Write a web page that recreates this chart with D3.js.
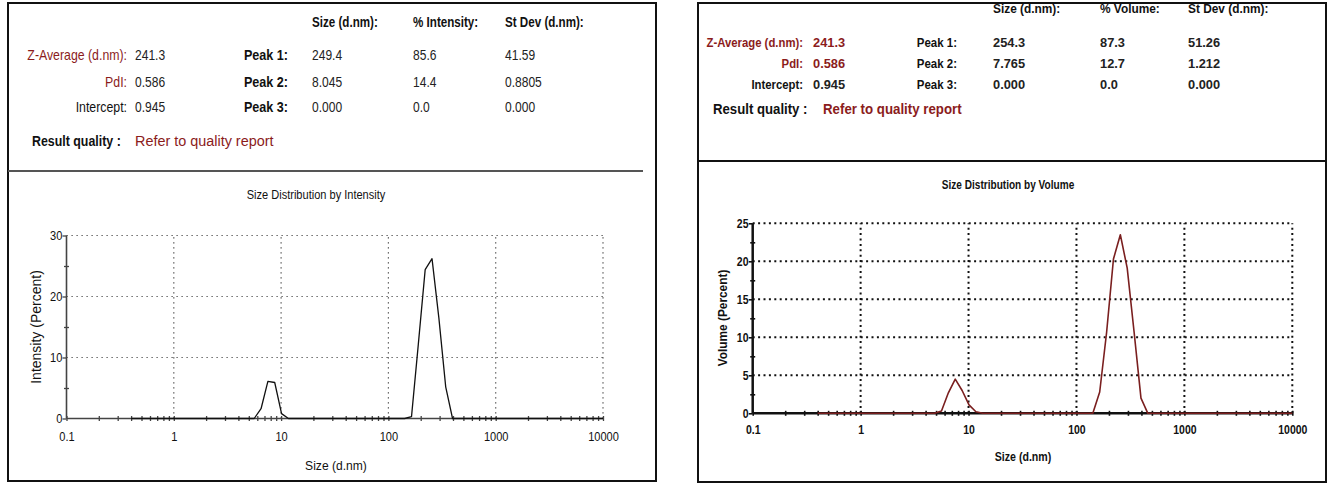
<!DOCTYPE html>
<html lang="en">
<head>
<meta charset="utf-8">
<script src="https://d3js.org/d3.v7.min.js"></script>
<style>
  body { margin: 0; background: #fff; }
  svg { display: block; }
  text { font-family: "Liberation Sans", Arial, sans-serif; }
</style>
</head>
<body>
<svg id="chart" width="1334" height="484"></svg>
<script>
// instrument size classes (d.nm), 70 log spaced bins
const sizeBins = [0.4, 0.4632, 0.5365, 0.6213, 0.7195, 0.8332, 0.9649, 1.117, 1.294, 1.499,
  1.736, 2.01, 2.328, 2.696, 3.122, 3.615, 4.187, 4.849, 5.615, 6.503,
  7.531, 8.721, 10.1, 11.7, 13.54, 15.69, 18.17, 21.04, 24.36, 28.21,
  32.67, 37.84, 43.82, 50.75, 58.77, 68.06, 78.82, 91.28, 105.7, 122.4,
  141.8, 164.2, 190.1, 220.2, 255.0, 295.3, 342.0, 396.1, 458.7, 531.2,
  615.1, 712.4, 825.0, 955.4, 1106, 1281, 1484, 1718, 1990, 2305,
  2669, 3091, 3580, 4145, 4801, 5560, 6439, 7456, 8635, 10000];

const intensityPct = [0, 0, 0, 0, 0, 0, 0, 0, 0, 0,
  0, 0, 0, 0, 0, 0, 0, 0, 0, 1.6,
  6.1, 5.9, 0.8, 0, 0, 0, 0, 0, 0, 0,
  0, 0, 0, 0, 0, 0, 0, 0, 0, 0,
  0, 0.3, 12.2, 24.4, 26.2, 16.5, 5.2, 0, 0, 0,
  0, 0, 0, 0, 0, 0, 0, 0, 0, 0,
  0, 0, 0, 0, 0, 0, 0, 0, 0, 0];

const volumePct = [0, 0, 0, 0, 0, 0, 0, 0, 0, 0,
  0, 0, 0, 0, 0, 0, 0, 0, 0.3, 2.7,
  4.5, 3.0, 1.1, 0.2, 0, 0, 0, 0, 0, 0,
  0, 0, 0, 0, 0, 0, 0, 0, 0, 0,
  0, 2.8, 10.6, 20.3, 23.5, 19.1, 10.7, 2.0, 0, 0,
  0, 0, 0, 0, 0, 0, 0, 0, 0, 0,
  0, 0, 0, 0, 0, 0, 0, 0, 0, 0];

const xTicks = [0.1, 1, 10, 100, 1000, 10000];
const intensityTicks = [0, 10, 20, 30];
const volumeTicks = [0, 5, 10, 15, 20, 25];

const summaryLabels = ["Z-Average (d.nm):", "PdI:", "Intercept:"];
const summaryValues = ["241.3", "0.586", "0.945"];
const peakLabels = ["Peak 1:", "Peak 2:", "Peak 3:"];

const intensityHeaders = ["Size (d.nm):", "% Intensity:", "St Dev (d.nm):"];
const intensityPeakSize = ["249.4", "8.045", "0.000"];
const intensityPeakPct = ["85.6", "14.4", "0.0"];
const intensityPeakSd = ["41.59", "0.8805", "0.000"];

const volumeHeaders = ["Size (d.nm):", "% Volume:", "St Dev (d.nm):"];
const volumePeakSize = ["254.3", "7.765", "0.000"];
const volumePeakPct = ["87.3", "12.7", "0.0"];
const volumePeakSd = ["51.26", "1.212", "0.000"];

const RED = "#8b1c1c";
const svg = d3.select("#chart");

// text squeezed horizontally (the report font is a condensed one)
function label(sel, x, y, str, o) {
  return sel.append("text")
    .attr("transform", `translate(${x},${y}) scale(${o.sx || 1},1)`)
    .attr("text-anchor", o.anchor || "start")
    .attr("font-size", o.size)
    .attr("font-weight", o.weight || "normal")
    .attr("fill", o.fill || "#111")
    .text(str);
}

function drawPanel(p) {
  const g = svg.append("g");
  const w = p.bold ? "bold" : "normal";

  // frame + divider
  g.append("rect").attr("x", p.box[0]).attr("y", p.box[1])
    .attr("width", p.box[2]).attr("height", p.box[3])
    .attr("fill", "none").attr("stroke", "#111").attr("stroke-width", 2);
  g.append("line").attr("x1", p.box[0]).attr("x2", p.divEnd)
    .attr("y1", p.divY).attr("y2", p.divY)
    .attr("stroke", p.divColor).attr("stroke-width", 2);

  // ---- result table ----
  p.headers.forEach((h, i) => {
    label(g, p.colX[i], p.headY, h, {size: p.fs, weight: "bold", sx: p.sxHead});
  });
  summaryLabels.forEach((s, i) => {
    const y = p.rowY[i];
    label(g, p.labEnd, y, s, {size: p.fs, weight: w, anchor: "end", sx: p.sxLab, fill: i < 2 ? RED : "#111"});
    label(g, p.valX, y, summaryValues[i], {size: p.fs, weight: w, sx: p.sxVal,
      fill: (i < 2 && p.redVals) ? RED : "#222"});
    label(g, p.peakEnd, y, peakLabels[i], {size: p.fs, weight: "bold", anchor: "end", sx: p.sxPeak});
    [p.sizes, p.pcts, p.sds].forEach((col, j) => {
      label(g, p.colX[j], y, col[i], {size: p.fs, weight: w, sx: p.sxVal, fill: "#222"});
    });
  });
  label(g, p.rqX, p.rqY, "Result quality :", {size: p.rqFs, weight: "bold", sx: p.sxRq});
  label(g, p.refX, p.rqY, "Refer to quality report", {size: p.rqFs, weight: w, sx: p.sxRef, fill: RED});

  // ---- chart ----
  const x = d3.scaleLog().domain([0.1, 10000]).range(p.xr);
  const y = d3.scaleLinear().domain([0, p.yMax]).range(p.yr);
  const c = g.append("g");

  label(c, p.titleX, p.titleY, p.title, {size: p.titleFs, weight: w, anchor: "middle", sx: p.sxTitle});

  // dotted grid
  const grid = c.append("g").attr("stroke", p.gridColor).attr("stroke-width", p.gridW)
    .attr("stroke-dasharray", p.gridDash);
  xTicks.slice(1).forEach(v => {
    grid.append("line").attr("x1", x(v)).attr("x2", x(v)).attr("y1", y(0)).attr("y2", y(p.yMax));
  });
  p.yTicks.slice(1).forEach(v => {
    grid.append("line").attr("x1", x(0.1)).attr("x2", x(10000)).attr("y1", y(v)).attr("y2", y(v));
  });

  // minor x ticks (crossing the baseline)
  const minorX = [];
  xTicks.slice(0, -1).forEach(d => { for (let k = 2; k <= 9; k++) minorX.push(d * k); });
  const mx = c.append("g").attr("transform", `translate(0,${y(0) - p.tk})`)
    .call(d3.axisBottom(x).tickValues(minorX.concat(xTicks)).tickSize(p.tk * 2).tickFormat(""));
  mx.select(".domain").remove();
  mx.selectAll("line").attr("stroke", p.axisColor).attr("stroke-width", p.tickW);

  // minor y ticks
  const minorY = p.yTicks.slice(0, -1).map(v => v + p.yStep / 2);
  const my = c.append("g").attr("transform", `translate(${x(0.1) + p.tk},0)`)
    .call(d3.axisLeft(y).tickValues(minorY).tickSize(p.tk * 2).tickFormat(""));
  my.select(".domain").remove();
  my.selectAll("line").attr("stroke", p.axisColor).attr("stroke-width", p.tickW);

  // major axes with labels
  const ax = c.append("g").attr("transform", `translate(0,${y(0)})`)
    .call(d3.axisBottom(x).tickValues(xTicks).tickSize(0).tickPadding(p.xPad)
      .tickFormat(d => String(d)));
  ax.select(".domain").remove();
  ax.selectAll("text").attr("font-size", p.tickFs).attr("fill", "#111")
    .attr("font-family", null).attr("font-weight", w)
    .attr("transform", `scale(${p.sxTick},1)`);

  const ay = c.append("g").attr("transform", `translate(${x(0.1)},0)`)
    .call(d3.axisLeft(y).tickValues(p.yTicks).tickSize(4).tickPadding(1));
  ay.select(".domain").remove();
  ay.selectAll("line").attr("stroke", p.axisColor).attr("stroke-width", p.tickW);
  ay.selectAll("text").attr("font-size", p.tickFs).attr("fill", "#111")
    .attr("font-family", null).attr("font-weight", w)
    .attr("transform", `scale(${p.sxTick},1)`);

  // solid axis lines
  c.append("line").attr("x1", x(0.1)).attr("x2", x(0.1)).attr("y1", y(0)).attr("y2", y(p.yMax))
    .attr("stroke", p.axisColor).attr("stroke-width", p.axisW);
  c.append("line").attr("x1", x(0.1)).attr("x2", x(10000)).attr("y1", y(0)).attr("y2", y(0))
    .attr("stroke", p.axisColor).attr("stroke-width", p.axisW);

  // distribution curve
  const line = d3.line().x(d => x(d[0])).y(d => y(d[1]));
  c.append("path").datum(d3.zip(sizeBins, p.values))
    .attr("d", line).attr("fill", "none")
    .attr("stroke", p.curveColor).attr("stroke-width", p.curveW).attr("stroke-linejoin", "round");

  // axis titles
  label(c, p.xtX, p.xtY, "Size (d.nm)", {size: p.xtFs, weight: w, anchor: "middle", sx: p.sxXt});
  c.append("text").attr("transform", `translate(${p.ytX},${p.ytY}) rotate(-90) scale(${p.sxYt},1)`)
    .attr("text-anchor", "middle").attr("font-size", p.ytFs).attr("font-weight", w)
    .attr("fill", "#111").text(p.yTitle);
}

drawPanel({
  box: [8, 3, 648, 478], divY: 171, divEnd: 643, divColor: "#555",
  bold: false, redVals: false, fs: 14, rqFs: 15.5,
  sxHead: 0.83, sxLab: 0.88, sxVal: 0.86, sxPeak: 0.9, sxRq: 0.8, sxRef: 0.93,
  headers: intensityHeaders, sizes: intensityPeakSize, pcts: intensityPeakPct, sds: intensityPeakSd,
  colX: [312, 413, 505], headY: 27, rowY: [60, 87, 112],
  labEnd: 127, valX: 135, peakEnd: 288, rqX: 32, refX: 135, rqY: 146,
  xr: [66.5, 603], yr: [418.5, 235.5], yMax: 30, yTicks: intensityTicks, yStep: 10,
  title: "Size Distribution by Intensity", titleX: 316, titleY: 199, titleFs: 13, sxTitle: 0.85,
  gridColor: "#444", gridW: 1.2, gridDash: "1.2,3.8",
  axisColor: "#444", axisW: 1.6, tickW: 1.3, tk: 2.5,
  tickFs: 13.5, sxTick: 0.82, xPad: 13,
  curveColor: "#111", curveW: 1.3, values: intensityPct,
  xtX: 336, xtY: 470, xtFs: 13, sxXt: 0.93,
  yTitle: "Intensity (Percent)", ytX: 41, ytY: 327, ytFs: 14, sxYt: 1
});

drawPanel({
  box: [698, 3, 628, 479], divY: 161, divEnd: 1326, divColor: "#111",
  bold: true, redVals: true, fs: 13.5, rqFs: 15,
  sxHead: 0.88, sxLab: 0.84, sxVal: 0.95, sxPeak: 0.85, sxRq: 0.88, sxRef: 0.885,
  headers: volumeHeaders, sizes: volumePeakSize, pcts: volumePeakPct, sds: volumePeakSd,
  colX: [993, 1100, 1188], headY: 13, rowY: [47, 68, 89],
  labEnd: 803, valX: 813, peakEnd: 957, rqX: 713, refX: 823, rqY: 114,
  xr: [752.7, 1292.3], yr: [413.3, 223.3], yMax: 25, yTicks: volumeTicks, yStep: 5,
  title: "Size Distribution by Volume", titleX: 1008, titleY: 189, titleFs: 12, sxTitle: 0.84,
  gridColor: "#111", gridW: 2, gridDash: "2,3.4",
  axisColor: "#111", axisW: 2.5, tickW: 1.6, tk: 2.5,
  tickFs: 12.5, sxTick: 0.84, xPad: 12,
  curveColor: "#7a1f1f", curveW: 1.6, values: volumePct,
  xtX: 1023, xtY: 461, xtFs: 12.5, sxXt: 0.85,
  yTitle: "Volume (Percent)", ytX: 727, ytY: 318, ytFs: 12.5, sxYt: 0.95
});
</script>
</body>
</html>
